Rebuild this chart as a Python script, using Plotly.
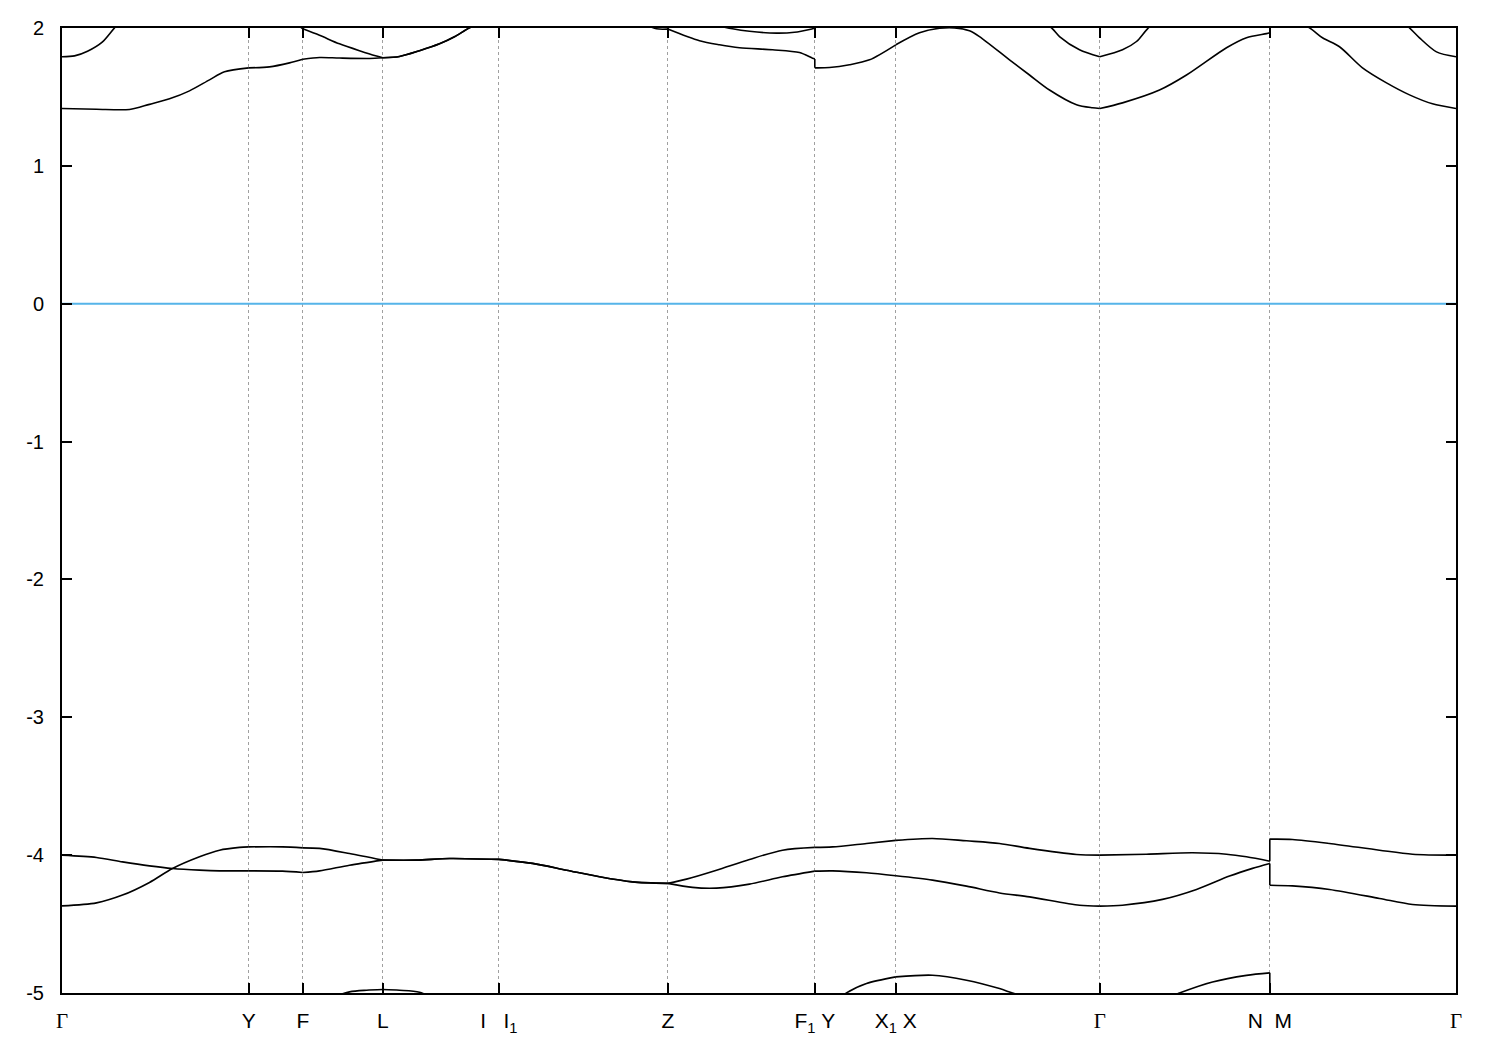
import plotly.graph_objects as go

# High-symmetry k-point positions along the path and their labels
kpoint_pos = [0.0, 0.1868, 0.2408, 0.3208, 0.4368, 0.6058, 0.7528, 0.8338, 1.0378, 1.2078, 1.394]
G = '<span style="font-family:\'Liberation Serif\', serif">Γ</span>'
NB = '\u00a0'
kpoint_labels = [G, "Y", "F", "L", f"I{NB}{NB}{NB}I<sub>1</sub>", "Z", f"F<sub>1</sub>{NB}Y",
                 f"X<sub>1</sub>{NB}X", G, f"N{NB}{NB}M", G]

y_tick_vals = [2, 1, 0, -1, -2, -3, -4, -5]
y_tick_text = ["2", "1", "0", "-1", "-2", "-3", "-4", "-5"]
fermi_level = 0.0

# Bands: k distance and energy (eV). A repeated k marks a discontinuity in the path.
vb_a_k = [0, 0.0345, 0.0605, 0.0875, 0.1105, 0.1375, 0.1575, 0.1868, 0.2205, 0.2408, 0.2575, 0.2875,
          0.3208, 0.3545, 0.3875, 0.4368, 0.4705, 0.5045, 0.5375, 0.5705, 0.6058, 0.6305, 0.6545,
          0.6875, 0.7205, 0.7528, 0.7705, 0.8045, 0.8338, 0.8705, 0.9045, 0.9375, 0.9675, 1.0175,
          1.0378, 1.0605, 1.1005, 1.1345, 1.1675, 1.1905, 1.2078, 1.2078, 1.2305, 1.2675, 1.3175,
          1.3505, 1.394]
vb_a_e = [-4.000, -4.017, -4.049, -4.078, -4.097, -4.109, -4.114, -4.114, -4.116, -4.126, -4.114, -4.073,
          -4.036, -4.036, -4.024, -4.031, -4.060, -4.109, -4.157, -4.194, -4.205, -4.234, -4.239,
          -4.210, -4.157, -4.116, -4.114, -4.128, -4.150, -4.181, -4.225, -4.274, -4.303, -4.363,
          -4.370, -4.363, -4.321, -4.249, -4.152, -4.096, -4.060, -4.218, -4.223, -4.249, -4.314,
          -4.358, -4.370]

vb_b_k = [0, 0.0345, 0.0605, 0.0875, 0.1105, 0.1375, 0.1575, 0.1775, 0.1868, 0.2205, 0.2408, 0.2575,
          0.2875, 0.3208, 0.3545, 0.3875, 0.4368, 0.4705, 0.5045, 0.5375, 0.5705, 0.6058, 0.6245,
          0.6545, 0.6875, 0.7205, 0.7528, 0.7705, 0.8045, 0.8338, 0.8705, 0.9045, 0.9375, 0.9675,
          1.0145, 1.0378, 1.0845, 1.1305, 1.1645, 1.1845, 1.2078, 1.2078, 1.2305, 1.2675, 1.3175,
          1.3505, 1.394]
vb_b_e = [-4.368, -4.346, -4.290, -4.198, -4.097, -4.012, -3.964, -3.944, -3.940, -3.940, -3.947, -3.951,
          -3.988, -4.036, -4.036, -4.024, -4.031, -4.060, -4.109, -4.157, -4.194, -4.205, -4.174,
          -4.109, -4.031, -3.964, -3.944, -3.940, -3.915, -3.893, -3.879, -3.896, -3.915, -3.951,
          -3.995, -4.000, -3.993, -3.983, -3.993, -4.012, -4.044, -3.884, -3.886, -3.915, -3.964,
          -3.993, -4.000]

vb_deep_k = [0, 0.1868, 0.2408, 0.2575, 0.2875, 0.3045, 0.3208, 0.3375, 0.3575, 0.3775, 0.4368, 0.6058,
             0.7528, 0.7845, 0.8045, 0.8338, 0.8705, 0.9045, 0.9375, 0.9505, 0.9775, 1.0378, 1.0975,
             1.1175, 1.1505, 1.1845, 1.2078, 1.2078, 1.394]
vb_deep_e = [-5.40, -5.20, -5.10, -5.06, -4.992, -4.980, -4.975, -4.980, -4.994, -5.06, -5.20, -5.40,
             -5.20, -5.000, -4.931, -4.883, -4.871, -4.907, -4.968, -5.000, -5.06, -5.15, -5.06,
             -5.000, -4.920, -4.872, -4.854, -5.30, -5.40]

cb1_k = [0, 0.0345, 0.0675, 0.0875, 0.1075, 0.1275, 0.1475, 0.1625, 0.1868, 0.2075, 0.2275, 0.2408, 0.2575,
         0.2775, 0.3075, 0.3208, 0.3375, 0.3575, 0.3775, 0.3925, 0.4075, 0.4368, 0.5045, 0.5775, 0.5945,
         0.6058, 0.6375, 0.6575, 0.6775, 0.7105, 0.7375, 0.7505, 0.7528, 0.7528, 0.7675, 0.7875, 0.8075,
         0.8338, 0.8575, 0.8775, 0.8925, 0.9075, 0.9175, 0.9475, 0.9675, 0.9875, 1.0145, 1.0305, 1.0378,
         1.0605, 1.0975, 1.1245, 1.1645, 1.1845, 1.2045, 1.2078, 1.2078, 1.2475, 1.2605, 1.2775, 1.3005,
         1.3245, 1.3475, 1.3705, 1.394]
cb1_e = [1.416, 1.411, 1.409, 1.446, 1.486, 1.544, 1.624, 1.682, 1.711, 1.718, 1.747, 1.773, 1.786,
         1.782, 1.779, 1.784, 1.793, 1.835, 1.885, 1.936, 2.001, 2.08, 2.15, 2.04, 1.994,
         1.992, 1.907, 1.878, 1.857, 1.842, 1.822, 1.781, 1.776, 1.711, 1.713, 1.733, 1.769,
         1.878, 1.965, 1.998, 2.001, 1.980, 1.938, 1.769, 1.659, 1.550, 1.443, 1.421, 1.416,
         1.457, 1.550, 1.659, 1.857, 1.930, 1.959, 1.965, 2.15, 2.001, 1.929, 1.864, 1.711,
         1.602, 1.515, 1.450, 1.416]

cb2_k = [0, 0.0125, 0.0255, 0.0405, 0.0525, 0.0775, 0.1868, 0.2408, 0.2575, 0.2775, 0.2975, 0.3135, 0.3208,
         0.3375, 0.3575, 0.3775, 0.3925, 0.4075, 0.4368, 0.5045, 0.6058, 0.6705, 0.6875, 0.7145, 0.7325,
         0.7505, 0.7528, 0.7528, 0.8338, 0.9175, 0.9675, 0.9895, 0.9975, 1.0175, 1.0378, 1.0605, 1.0745,
         1.0855, 1.1175, 1.2078, 1.2078, 1.3005, 1.3475, 1.3575, 1.3745, 1.394]
cb2_e = [1.791, 1.798, 1.832, 1.900, 2.001, 2.2, 2.3, 1.994, 1.947, 1.885, 1.835, 1.798, 1.784,
         1.793, 1.835, 1.885, 1.936, 2.001, 2.1, 2.25, 2.1, 1.994, 1.976, 1.963, 1.969,
         1.994, 1.998, 2.1, 2.25, 2.3, 2.1, 2.001, 1.938, 1.842, 1.791, 1.842, 1.902,
         1.994, 2.2, 2.4, 2.45, 2.3, 2.001, 1.929, 1.827, 1.791]

bands = [(vb_deep_k, vb_deep_e), (vb_a_k, vb_a_e), (vb_b_k, vb_b_e), (cb1_k, cb1_e), (cb2_k, cb2_e)]


def split_band(kk, ee):
    """Smooth pieces between high-symmetry points, plus vertical jump connectors."""
    sx, sy, jx, jy = [], [], [], []
    cur_x, cur_y = [kk[0]], [ee[0]]
    for i in range(1, len(kk)):
        if kk[i] == kk[i - 1]:
            jx += [kk[i - 1], kk[i], None]
            jy += [ee[i - 1], ee[i], None]
            sx += cur_x + [None]
            sy += cur_y + [None]
            cur_x, cur_y = [kk[i]], [ee[i]]
            continue
        cur_x.append(kk[i])
        cur_y.append(ee[i])
        if any(abs(kk[i] - p) < 1e-9 for p in kpoint_pos) and i < len(kk) - 1 and kk[i + 1] != kk[i]:
            sx += cur_x + [None]
            sy += cur_y + [None]
            cur_x, cur_y = [kk[i]], [ee[i]]
    sx += cur_x
    sy += cur_y
    return sx, sy, jx, jy


fig = go.Figure()

# Fermi level
fig.add_trace(go.Scatter(x=[kpoint_pos[0], kpoint_pos[-1]], y=[fermi_level, fermi_level], mode="lines",
                         line=dict(color="#56B4E9", width=2), hoverinfo="skip", showlegend=False))

for kk, ee in bands:
    sx, sy, jx, jy = split_band(kk, ee)
    fig.add_trace(go.Scatter(x=sx, y=sy, mode="lines", connectgaps=False,
                             line=dict(color="black", width=1.6, shape="spline", smoothing=0.8),
                             showlegend=False))
    if jx:
        fig.add_trace(go.Scatter(x=jx, y=jy, mode="lines", connectgaps=False,
                                 line=dict(color="black", width=1.6), showlegend=False))

font = "Liberation Sans, Arial, sans-serif"
fig.update_layout(
    width=1500, height=1050,
    margin=dict(l=62, r=44, t=28, b=57),
    paper_bgcolor="white", plot_bgcolor="white",
    showlegend=False,
    font=dict(family=font, color="black"),
)
fig.update_xaxes(
    range=[kpoint_pos[0], kpoint_pos[-1]],
    tickmode="array", tickvals=kpoint_pos, ticktext=kpoint_labels,
    ticks="inside", ticklen=10, tickwidth=1.5, tickcolor="black",
    showline=True, linecolor="black", linewidth=2, mirror="ticks",
    showgrid=True, gridcolor="#a0a0a0", gridwidth=1, griddash="3px,3px",
    zeroline=False, tickfont=dict(size=21, family=font, color="black"),
    ticklabelstandoff=8,
)
fig.update_yaxes(
    range=[-5, 2],
    tickmode="array", tickvals=y_tick_vals, ticktext=y_tick_text,
    ticks="inside", ticklen=10, tickwidth=1.5, tickcolor="black",
    showline=True, linecolor="black", linewidth=2, mirror="ticks",
    showgrid=False, zeroline=False,
    tickfont=dict(size=20, family=font, color="black"),
    ticklabelstandoff=12,
)

fig.write_html("out.html", config={"displayModeBar": False},
               post_script="document.body.style.margin='0px';")
